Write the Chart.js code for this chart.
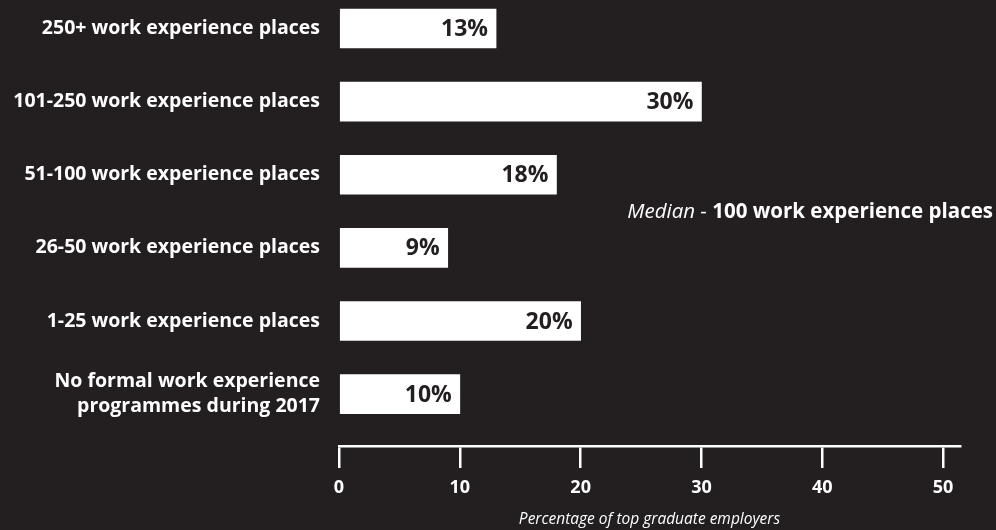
<!DOCTYPE html>
<html>
<head>
<meta charset="utf-8">
<script src="https://cdn.jsdelivr.net/npm/chart.js@4"></script>
<style>
  html, body { margin: 0; padding: 0; background: #231f20; }
  #wrap { width: 996px; height: 530px; }
</style>
</head>
<body>
<div id="wrap"><canvas id="placesChart"></canvas></div>
<script>
const categories = [
    '250+ work experience places',
    '101-250 work experience places',
    '51-100 work experience places',
    '26-50 work experience places',
    '1-25 work experience places',
    ['No formal work experience', 'programmes during 2017']
];
const shares = [13, 30, 18, 9, 20, 10];
const xTicks = [0, 10, 20, 30, 40, 50];

const FONT = '"Open Sans", "Noto Sans", sans-serif';
const BG = '#231f20';

// value printed at the end of each bar, plus the median note
const barLabels = {
    id: 'barLabels',
    afterDatasetsDraw(chart) {
        const ctx = chart.ctx;
        const meta = chart.getDatasetMeta(0);
        ctx.save();
        ctx.fillStyle = BG;
        ctx.font = 'bold 23px ' + FONT;
        ctx.textAlign = 'right';
        ctx.textBaseline = 'middle';
        meta.data.forEach((bar, i) => {
            ctx.fillText(shares[i] + '%', bar.x - 8, bar.y + 1);
        });

        // "Median - 100 work experience places"
        const right = 993, y = 212;
        ctx.fillStyle = '#ffffff';
        ctx.textAlign = 'left';
        ctx.font = 'bold 20.5px ' + FONT;
        const boldText = '100 work experience places';
        const wBold = ctx.measureText(boldText).width;
        ctx.font = '20.5px ' + FONT;
        const dash = ' - ';
        const wDash = ctx.measureText(dash).width;
        ctx.font = 'italic 20.5px ' + FONT;
        const wMed = ctx.measureText('Median').width;
        let x = right - wBold - wDash - wMed;
        ctx.fillText('Median', x, y);
        x += wMed;
        ctx.font = '20.5px ' + FONT;
        ctx.fillText(dash, x, y);
        x += wDash;
        ctx.font = 'bold 20.5px ' + FONT;
        ctx.fillText(boldText, x, y);
        ctx.restore();
    }
};

const ctx = document.getElementById('placesChart').getContext('2d');
const placesChart = new Chart(ctx, {
    type: 'bar',
    data: {
        datasets: [{
            data: shares.map((v, i) => ({ x: v, y: i })),
            backgroundColor: '#ffffff',
            borderWidth: 0,
            barThickness: 39,
            clip: false
        }]
    },
    options: {
        indexAxis: 'y',
        responsive: true,
        maintainAspectRatio: false,
        animation: false,
        layout: { padding: { left: 0, right: 36, top: 0, bottom: 0 } },
        plugins: {
            legend: { display: false },
            tooltip: { enabled: false }
        },
        scales: {
            x: {
                type: 'linear',
                position: 'bottom',
                bounds: 'data',
                min: 0,
                max: 51.4,
                afterBuildTicks: (scale) => { scale.ticks = xTicks.map(v => ({ value: v })); },
                afterFit: (scale) => { scale.height = 84; },
                grid: {
                    drawOnChartArea: false,
                    drawTicks: true,
                    tickLength: 22,
                    color: '#ffffff',
                    lineWidth: 2.5
                },
                border: { display: true, color: '#ffffff', width: 2.5 },
                ticks: {
                    color: '#ffffff',
                    font: { family: FONT, size: 18, weight: 'bold' },
                    padding: 9
                },
                title: {
                    display: true,
                    text: 'Percentage of top graduate employers',
                    color: '#ffffff',
                    font: { family: FONT, size: 15.5, style: 'italic' },
                    padding: { top: 0, bottom: 1 }
                }
            },
            y: {
                type: 'linear',
                reverse: true,
                offset: false,
                bounds: 'data',
                min: -0.39,
                max: 5.71,
                afterBuildTicks: (scale) => { scale.ticks = categories.map((_, i) => ({ value: i })); },
                afterFit: (scale) => {
                    scale.width = 339;
                    scale.paddingTop = 0;
                    scale.paddingBottom = 0;
                },
                grid: { display: false, drawTicks: false },
                border: { display: false },
                ticks: {
                    autoSkip: false,
                    color: '#ffffff',
                    padding: 19,
                    font: { family: FONT, size: 19.5, weight: 'bold', lineHeight: 1.3 },
                    callback: (v) => categories[v]
                }
            }
        }
    },
    plugins: [barLabels]
});
</script>
</body>
</html>
